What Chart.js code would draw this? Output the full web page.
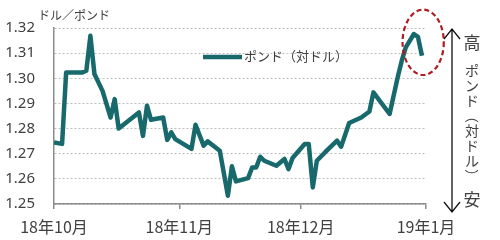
<!DOCTYPE html>
<html>
<head>
<meta charset="utf-8">
<script src="https://cdn.jsdelivr.net/npm/chart.js@4"></script>
<style>
  body { margin: 0; background: #fff; }
  #gbpChart { display: block; }
</style>
</head>
<body>
<canvas id="gbpChart" width="500" height="240"></canvas>
<script>
// day offsets from 2018-10-01 and GBP/USD closes
const days = [0, 2, 3, 7, 8, 9, 10, 12, 14, 15, 16, 21, 22, 23, 24, 27, 28, 29, 30, 34,
  35, 37, 38, 41, 43, 44, 45, 48, 49, 50, 51, 52, 55, 57, 58, 59, 62, 63, 64, 65,
  67, 70, 71, 73, 76, 78, 79, 83, 85, 86, 87, 89, 90, 91];
const gbpusd = [1.2745, 1.2739, 1.3023, 1.3023, 1.3030, 1.3169, 1.3017, 1.2950, 1.2844, 1.2917,
  1.2800, 1.2864, 1.2771, 1.2891, 1.2835, 1.2844, 1.2755, 1.2785, 1.2758, 1.2719,
  1.2815, 1.2732, 1.2749, 1.2712, 1.2533, 1.2650, 1.2590, 1.2603, 1.2645, 1.2645,
  1.2688, 1.2672, 1.2652, 1.2679, 1.2639, 1.2683, 1.2739, 1.2739, 1.2566, 1.2672,
  1.2705, 1.2752, 1.2728, 1.2822, 1.2844, 1.2868, 1.2944, 1.2858, 1.3004, 1.3070,
  1.3123, 1.3176, 1.3165, 1.3090];
const tickDays = [0, 31, 61, 92];
const tickLabels = ['18年10月', '18年11月', '18年12月', '19年1月'];
const seriesName = 'ポンド（対ドル）';
const sideText = 'ポンド（対ドル）';

const lineColor = '#17696c';
const textColor = '#404040';
const jpFont = '"Noto Sans CJK JP", "Noto Sans", sans-serif';

const extras = {
  id: 'extras',
  afterDraw(chart) {
    const { ctx, chartArea: a, scales: { x, y } } = chart;
    ctx.save();

    // y unit label
    ctx.fillStyle = textColor;
    ctx.font = '12px ' + jpFont;
    ctx.textAlign = 'left';
    ctx.textBaseline = 'middle';
    ctx.fillText('ドル／ポンド', 38, 15);

    // legend
    const lx = a.left + 149, ly = a.top + 29;
    ctx.strokeStyle = lineColor;
    ctx.lineWidth = 4.5;
    ctx.beginPath();
    ctx.moveTo(lx, ly);
    ctx.lineTo(lx + 39, ly);
    ctx.stroke();
    ctx.font = '13px ' + jpFont;
    ctx.fillText(seriesName, lx + 41, ly - 1);

    // dashed ellipse round the latest high
    const cx = x.getPixelForValue(91.3), cy = y.getPixelForValue(1.3143);
    const rx = x.getPixelForValue(5.1) - x.getPixelForValue(0);
    const ry = y.getPixelForValue(1.25) - y.getPixelForValue(1.2630);
    ctx.strokeStyle = '#b01c22';
    ctx.lineWidth = 2.2;
    ctx.setLineDash([5, 3]);
    ctx.beginPath();
    ctx.ellipse(cx, cy, rx, ry, 0, 0, Math.PI * 2);
    ctx.stroke();
    ctx.setLineDash([]);

    // high / low arrow on the right
    const ax = a.right + 26, top = a.top + 1, bot = a.bottom + 8;
    ctx.strokeStyle = '#111';
    ctx.lineWidth = 1.3;
    ctx.beginPath();
    ctx.moveTo(ax, top); ctx.lineTo(ax, bot);
    ctx.moveTo(ax - 8, top + 10); ctx.lineTo(ax, top); ctx.lineTo(ax + 8, top + 10);
    ctx.moveTo(ax - 8, bot - 10); ctx.lineTo(ax, bot); ctx.lineTo(ax + 8, bot - 10);
    ctx.stroke();

    const tx = ax + 20;
    ctx.fillStyle = textColor;
    ctx.textAlign = 'center';
    ctx.font = '17px ' + jpFont;
    ctx.fillText('高', tx, a.top + 15);
    ctx.fillText('安', tx, a.bottom - 4);

    ctx.font = '14px ' + jpFont;
    let ty = a.top + 43;
    for (const ch of sideText) {
      ctx.save();
      ctx.translate(tx, ty);
      if (ch === '（' || ch === '）') ctx.rotate(Math.PI / 2);
      ctx.fillText(ch, 0, 0);
      ctx.restore();
      ty += 15;
    }
    ctx.restore();
  }
};

new Chart(document.getElementById('gbpChart'), {
  type: 'line',
  data: {
    datasets: [{
      label: seriesName,
      data: days.map((d, i) => ({ x: d, y: gbpusd[i] })),
      borderColor: lineColor,
      borderWidth: 4.5,
      borderJoinStyle: 'round',
      pointRadius: 0,
      tension: 0,
      fill: false
    }]
  },
  options: {
    responsive: false,
    animation: false,
    layout: { padding: { top: 27, right: 74, left: 0, bottom: 0 } },
    plugins: {
      legend: { display: false },
      tooltip: { enabled: false }
    },
    scales: {
      x: {
        type: 'linear',
        min: 0,
        max: 92,
        afterBuildTicks: axis => { axis.ticks = tickDays.map(v => ({ value: v })); },
        afterFit: axis => { axis.height = 36; },
        ticks: {
          autoSkip: false,
          maxRotation: 0,
          padding: 8,
          color: textColor,
          font: { family: jpFont, size: 16 },
          callback: v => tickLabels[tickDays.indexOf(v)]
        },
        grid: { drawOnChartArea: false, drawTicks: true, tickLength: 5, color: '#8c8c8c', lineWidth: 1.5 },
        border: { color: '#8c8c8c', width: 1.5 }
      },
      y: {
        min: 1.25,
        max: 1.32,
        afterFit: axis => { axis.width = 54; },
        ticks: {
          stepSize: 0.01,
          padding: 19,
          color: textColor,
          font: { family: '"Noto Sans", sans-serif', size: 15 },
          callback: v => v.toFixed(2)
        },
        grid: { drawTicks: false, color: '#bdbdbd', lineWidth: 1 },
        border: { color: '#8c8c8c', width: 1.5, dash: [2, 2] }
      }
    }
  },
  plugins: [extras]
});
</script>
</body>
</html>
